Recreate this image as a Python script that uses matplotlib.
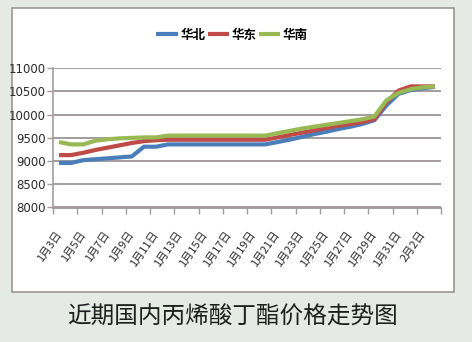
import matplotlib
matplotlib.use("Agg")
import matplotlib.pyplot as plt
from matplotlib.patches import Rectangle
from matplotlib.ticker import FixedLocator

# Daily prices, 1/3 through 2/3
dates = [f"1月{d}日" for d in range(3, 32)] + ["2月1日", "2月2日", "2月3日"]

north = [8960, 8960, 9020, 9040, 9060, 9080, 9100, 9310, 9310, 9360,
         9360, 9360, 9360, 9360, 9360, 9360, 9360, 9360, 9410, 9460,
         9520, 9580, 9630, 9690, 9740, 9800, 9880, 10200, 10450, 10530,
         10570, 10600]
east = [9130, 9130, 9180, 9240, 9290, 9340, 9390, 9430, 9450, 9460,
        9460, 9460, 9460, 9460, 9460, 9460, 9460, 9460, 9510, 9560,
        9610, 9660, 9710, 9760, 9800, 9840, 9900, 10270, 10520, 10610,
        10610, 10610]
south = [9410, 9360, 9360, 9440, 9470, 9490, 9500, 9510, 9510, 9550,
         9550, 9550, 9550, 9550, 9550, 9550, 9550, 9550, 9600, 9650,
         9700, 9740, 9780, 9820, 9860, 9900, 9960, 10310, 10470, 10550,
         10590, 10610]

series_names = ["华北", "华东", "华南"]
series_colors = ["#4a7ebb", "#be4b48", "#98b954"]
yticks = [8000, 8500, 9000, 9500, 10000, 10500, 11000]
title = "近期国内丙烯酸丁酯价格走势图"

cjk = ["Noto Sans CJK SC", "DejaVu Sans"]
narrow = ["Liberation Sans Narrow", "DejaVu Sans"]

fig = plt.figure(figsize=(4.72, 3.42), dpi=100)
fig.patch.set_facecolor("#e5eae5")

# white chart panel
W, H = 472, 342
panel = Rectangle((12 / W, 1 - 292 / H), (454 - 12) / W, (292 - 8) / H,
                  transform=fig.transFigure, facecolor="white",
                  edgecolor="#9c9494", linewidth=1.2, zorder=-5)
fig.patches.append(panel)

ax = fig.add_axes([53 / W, 1 - 207.5 / H, (441 - 53) / W, (207.5 - 68.3) / H])
ax.set_facecolor("none")
ax.set_zorder(2)

x = list(range(len(dates)))
for vals, name, col in zip([north, east, south], series_names, series_colors):
    ax.plot(x, vals, color=col, linewidth=3.0, label=name,
            solid_joinstyle="round", solid_capstyle="butt", zorder=3)

ax.set_xlim(-0.5, len(dates) - 0.5)
ax.set_ylim(8000, 11000)

# horizontal gridlines
ax.set_yticks(yticks)
ax.yaxis.grid(True, color="#a39c9c", linewidth=1.4)
ax.set_axisbelow(True)
ax.set_yticklabels([str(v) for v in yticks], family=narrow, fontsize=8.5,
                   color="#2a2a2a")
ax.tick_params(axis="y", length=4, width=1, color="#a39c9c", pad=1)

# category axis: labels on every other day, marks between pairs
ax.set_xticks(x[::2])
ax.set_xticklabels(dates[::2], rotation=55, ha="right", va="center",
                   rotation_mode="anchor", family=cjk, fontsize=8,
                   color="#2a2a2a")
ax.tick_params(axis="x", which="major", length=0, pad=18)
ax.xaxis.set_minor_locator(FixedLocator([i - 0.5 for i in range(0, len(dates) + 1, 2)]))
ax.tick_params(axis="x", which="minor", length=4, width=1, color="#a39c9c")

for side in ["top", "right"]:
    ax.spines[side].set_visible(False)
ax.spines["left"].set_color("#a39c9c")
ax.spines["left"].set_linewidth(1.2)
ax.spines["bottom"].set_color("#a39c9c")
ax.spines["bottom"].set_linewidth(1.4)

leg = fig.legend(loc="center", bbox_to_anchor=(232 / W, 1 - 35 / H), ncol=3,
                 frameon=False, prop={"family": cjk, "size": 9, "weight": "bold"},
                 handlelength=1.7, handletextpad=0.2, columnspacing=0.2,
                 borderaxespad=0)

fig.text(232 / W, 1 - 317 / H, title, family=cjk, fontsize=17,
         color="#1e1e1e", ha="center", va="center")

fig.savefig("out.png", dpi=100, facecolor=fig.get_facecolor())
